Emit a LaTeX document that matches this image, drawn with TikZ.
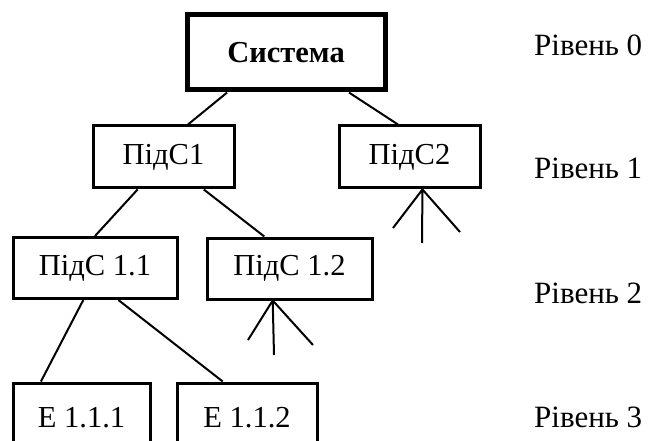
\documentclass[tikz,border=0pt]{standalone}
\usepackage{fontspec}
\setmainfont{Liberation Serif}
\usetikzlibrary{calc}
\begin{document}
\begin{tikzpicture}[x=1pt,y=-1pt,
  box/.style={draw,line width=3pt,minimum width=#1,inner sep=0pt,font=\fontsize{30.5}{33}\selectfont},
  box/.default=141pt,
  topbox/.style={draw,line width=5pt,inner sep=0pt,minimum width=198pt,minimum height=75pt,font=\fontsize{30.5}{33}\selectfont\bfseries},
  conn/.style={line width=2pt},
  lvl/.style={anchor=west,inner sep=0pt,font=\fontsize{31}{33}\selectfont}]
\useasboundingbox (0,0) rectangle (651,441);
\clip (0,0) rectangle (651,441);
\node[topbox] (sys) at (286,52.5) {Система};
\node[box=141pt,minimum height=62pt] (p1) at (163.5,157) {ПідС1};
\node[box=141pt,minimum height=62pt] (p2) at (409.5,157) {ПідС2};
\node[box=164pt,minimum height=61pt] (p11) at (95,268) {ПідС 1.1};
\node[box=165pt,minimum height=61pt] (p12) at (289.5,268.5) {ПідС 1.2};
\node[box=137pt,minimum height=70pt] (e1) at (81.5,418) {Е 1.1.1};
\node[box=140pt,minimum height=70pt] (e2) at (247,418) {Е 1.1.2};
\draw[conn] ($(sys.south west)!0.21!(sys.south east)$) -- ($(p1.north west)!0.67!(p1.north east)$);
\draw[conn] ($(sys.south west)!0.81!(sys.south east)$) -- ($(p2.north west)!0.42!(p2.north east)$);
\draw[conn] ($(p1.south west)!0.32!(p1.south east)$) -- ($(p11.north west)!0.5!(p11.north east)$);
\draw[conn] ($(p1.south west)!0.78!(p1.south east)$) -- ($(p12.north west)!0.35!(p12.north east)$);
\draw[conn] ($(p11.south west)!0.43!(p11.south east)$) -- ($(e1.north west)!0.21!(e1.north east)$);
\draw[conn] ($(p11.south west)!0.64!(p11.south east)$) -- ($(e2.north west)!0.33!(e2.north east)$);
\coordinate (f2) at ($(p2.south west)!0.59!(p2.south east)$);
\coordinate (f2a) at (393,228);
\coordinate (f2b) at (422,243);
\coordinate (f2c) at (460,232);
\draw[conn] (f2) -- (f2a) (f2) -- (f2b) (f2) -- (f2c);
\coordinate (f12) at ($(p12.south west)!0.4!(p12.south east)$);
\coordinate (f12a) at (248,340);
\coordinate (f12b) at (274,355);
\coordinate (f12c) at (313,345);
\draw[conn] (f12) -- (f12a) (f12) -- (f12b) (f12) -- (f12c);
\node[lvl] (l0) at (534,45) {Рівень 0};
\node[lvl] (l1) at (534,168) {Рівень 1};
\node[lvl] (l2) at (534,293) {Рівень 2};
\node[lvl] (l3) at (534,417) {Рівень 3};
\end{tikzpicture}
\end{document}
